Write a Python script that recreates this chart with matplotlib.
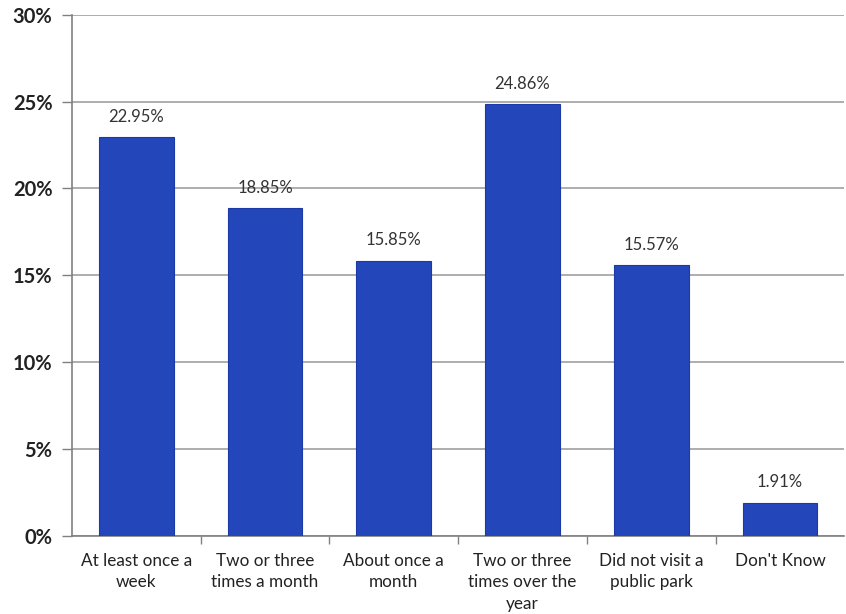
import matplotlib
matplotlib.use("Agg")
import matplotlib.pyplot as plt
import numpy as np
from matplotlib.ticker import FixedLocator, PercentFormatter

categories = [
    "At least once a\nweek",
    "Two or three\ntimes a month",
    "About once a\nmonth",
    "Two or three\ntimes over the\nyear",
    "Did not visit a\npublic park",
    "Don't Know",
]
values = [22.95, 18.85, 15.85, 24.86, 15.57, 1.91]
yticks = [0, 5, 10, 15, 20, 25, 30]

BAR_COLOR = "#2446bb"

plt.rcParams["font.family"] = ["Lato", "DejaVu Sans"]

fig = plt.figure(figsize=(8.46, 6.14), dpi=100)
ax = fig.add_axes([0.085, 0.127, 0.913, 0.849])

x = np.arange(len(categories))
ax.bar(x, values, width=0.58, color=BAR_COLOR, edgecolor="#1c3aa6", linewidth=0.8, zorder=3)

for xi, v in zip(x, values):
    ax.annotate(f"{v:.2f}%", (xi, v), xytext=(0, 9), textcoords="offset points",
                ha="center", va="bottom", fontsize=12, color="#333333")

ax.set_xlim(-0.5, len(categories) - 0.5)
ax.set_ylim(0, 30)
ax.set_yticks(yticks)
ax.yaxis.set_major_formatter(PercentFormatter(decimals=0))
for lbl in ax.get_yticklabels():
    lbl.set_fontweight("bold")
ax.tick_params(axis="y", labelsize=14.5, length=7, width=1, color="#808080", pad=7, labelcolor="#222222")

ax.set_xticks(x)
ax.set_xticklabels(categories, fontsize=12.3, color="#222222", linespacing=1.42)
ax.tick_params(axis="x", length=0, pad=12)
ax.xaxis.set_minor_locator(FixedLocator(np.arange(0.5, len(categories) - 0.5, 1.0)))
ax.tick_params(axis="x", which="minor", length=6, width=1, color="#808080", direction="out")

ax.grid(axis="y", color="#a0a0a0", linewidth=1.2, zorder=0)
for side in ("top", "right"):
    ax.spines[side].set_visible(False)
ax.spines["left"].set_color("#808080")
ax.spines["bottom"].set_color("#808080")
ax.spines["left"].set_linewidth(1.2)
ax.spines["bottom"].set_linewidth(1.2)

fig.savefig("out.png", dpi=100)
